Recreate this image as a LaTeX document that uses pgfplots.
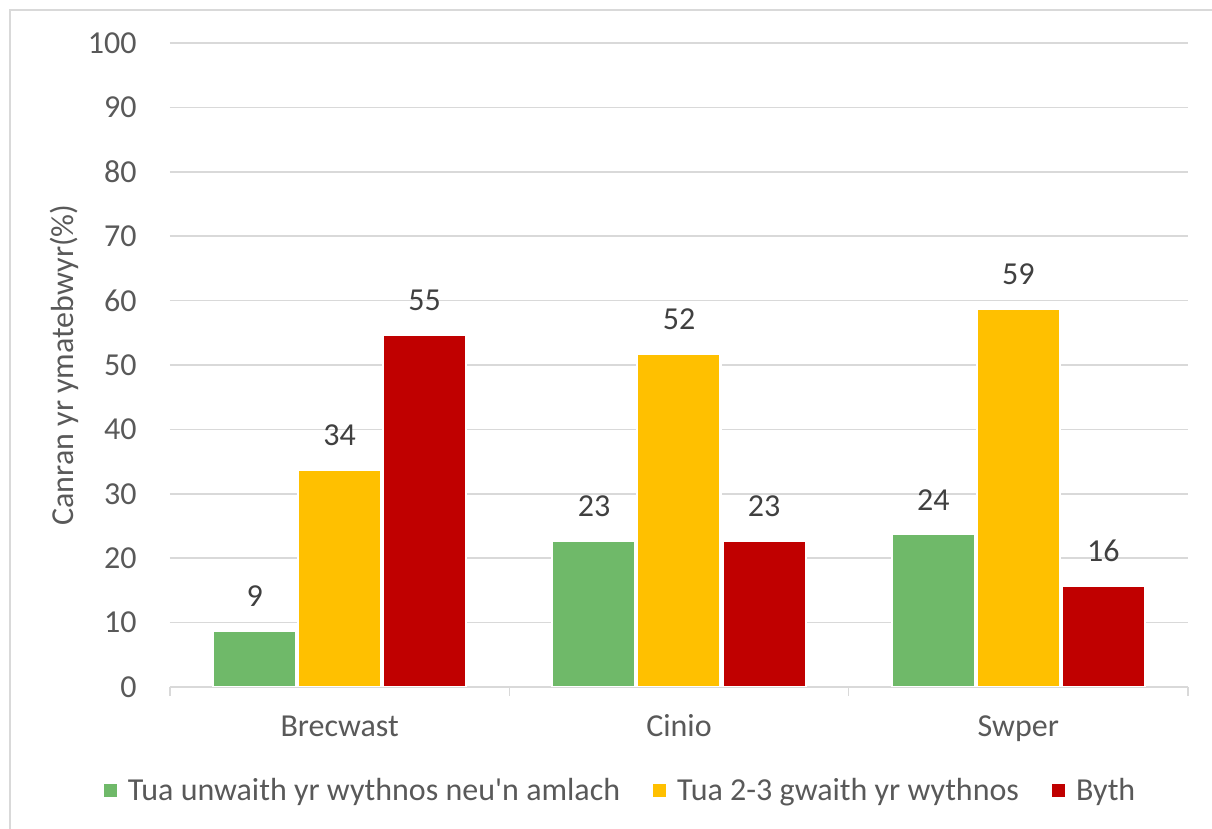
\documentclass[border=0pt]{standalone}
\usepackage{pgfplots}
\pgfplotsset{compat=1.18}
\usepackage{pgfplotstable}
\usepackage{fontspec}
\setmainfont{Carlito}[Ligatures=TeXOff]
\definecolor{cgreen}{HTML}{6FB969}
\definecolor{cyellow}{HTML}{FFC000}
\definecolor{cred}{HTML}{C00000}
\definecolor{cgrid}{HTML}{D9D9D9}
\definecolor{ctick}{HTML}{595959}
\definecolor{clabel}{HTML}{404040}
\newcommand{\cfont}{\fontsize{16}{19}\selectfont}

\pgfplotstableread{
x y lab
0 8.7 9
1 22.7 23
2 23.7 24
}\tuaunwaith
\pgfplotstableread{
x y lab
0 33.7 34
1 51.7 52
2 58.7 59
}\tuagwaith
\pgfplotstableread{
x y lab
0 54.7 55
1 22.7 23
2 15.7 16
}\byth

\begin{document}
\begin{tikzpicture}
\useasboundingbox (0,0) rectangle (606pt,414.5pt);
\draw[cgrid, line width=0.75pt] (5pt,0pt) -- (5pt,409.5pt) -- (606pt,409.5pt);
\begin{axis}[
  at={(85pt,71pt)}, anchor=south west,
  width=509pt, height=322pt, scale only axis,
  xmin=-0.5, xmax=2.5, ymin=0, ymax=100,
  ytick={0,10,...,100},
  xtick={0,1,2}, xticklabels={Brecwast,Cinio,Swper},
  minor xtick={-0.5,0.5,1.5,2.5},
  ymajorgrids,
  major grid style={cgrid, line width=0.75pt},
  axis x line=bottom, axis y line=left,
  x axis line style={cgrid, line width=0.75pt, -},
  y axis line style={draw=none},
  tick align=outside,
  major tick length=0pt,
  minor tick length=4.5pt,
  minor tick style={cgrid, line width=0.75pt},
  tick label style={font=\cfont, text=ctick, inner sep=0pt},
  yticklabel style={anchor=east, xshift=-16.5pt},
  xticklabel style={anchor=base, yshift=-25pt},
  /pgf/number format/assume math mode=true,
  ylabel={Canran yr ymatebwyr(\%)},
  ylabel style={at={(axis description cs:-0.104,0.5)}, anchor=center, font=\cfont, text=ctick, inner sep=0pt},
  ybar=1pt, bar width=41.5pt,
  every axis plot/.append style={legend image code/.code={\fill[##1,draw=none] (0pt,-3.25pt) rectangle (6.5pt,3.25pt);}},
  nodes near coords, point meta=explicit,
  nodes near coords={\pgfmathprintnumber[fixed,precision=0]{\pgfplotspointmeta}},
  every node near coord/.append style={font=\cfont, text=clabel, inner sep=0pt, yshift=11.5pt},
  legend columns=3,
  legend style={at={(axis description cs:0.4416,-0.1615)}, anchor=center, draw=none, fill=none,
    font=\cfont, text=ctick, nodes={inner sep=0pt},
    /tikz/every odd column/.append style={column sep=5.5pt},
    /tikz/every even column/.append style={column sep=16.5pt}},
  legend cell align=left,
]
\addplot[fill=cgreen, draw=white, line width=1pt] table[x=x,y=y,meta=lab]{\tuaunwaith};
\addplot[fill=cyellow, draw=white, line width=1pt] table[x=x,y=y,meta=lab]{\tuagwaith};
\addplot[fill=cred, draw=white, line width=1pt] table[x=x,y=y,meta=lab]{\byth};
\legend{Tua unwaith yr wythnos neu'n amlach, Tua 2-3 gwaith yr wythnos, Byth}
\end{axis}
\end{tikzpicture}
\end{document}
